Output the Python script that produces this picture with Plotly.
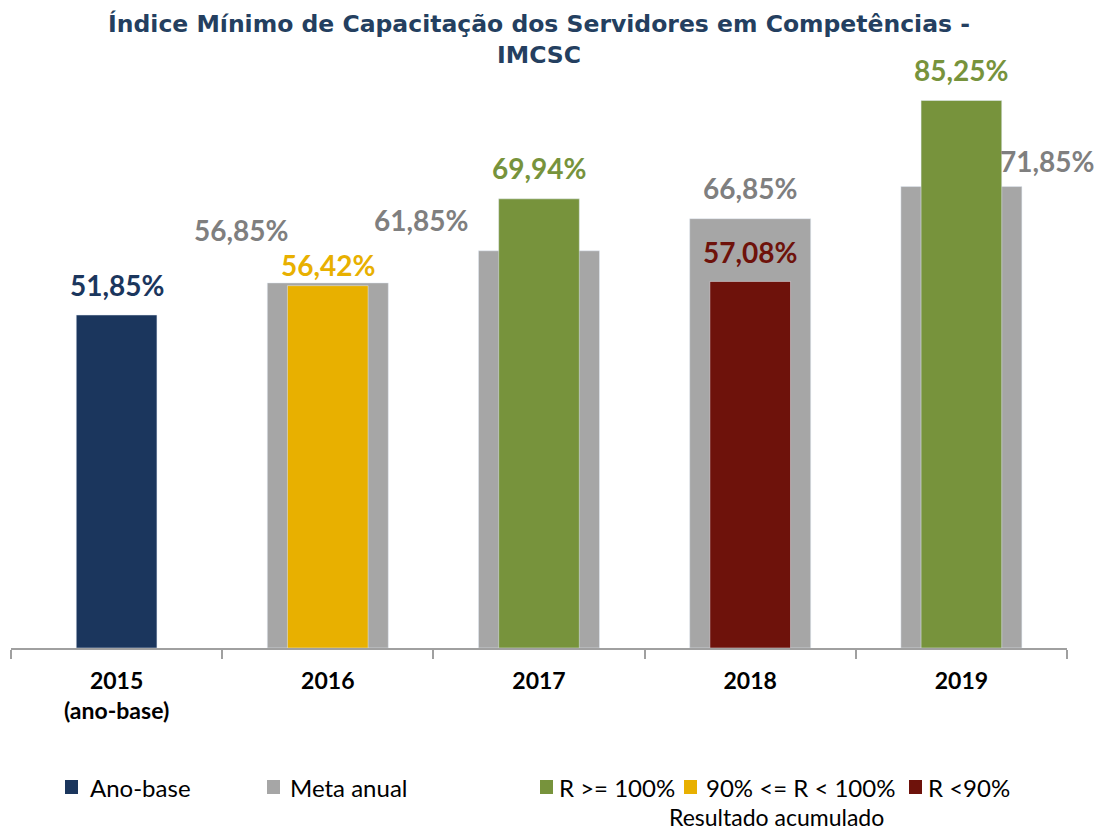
import plotly.graph_objects as go

# ---------------- data ----------------
categories = ["2015<br>(ano-base)", "2016", "2017", "2018", "2019"]
base_year = ["2015<br>(ano-base)"]
base_value = [51.85]
meta_years = ["2016", "2017", "2018", "2019"]
meta_values = [56.85, 61.85, 66.85, 71.85]
res_ge100_years = ["2017", "2019"]
res_ge100_values = [69.94, 85.25]
res_90_100_years = ["2016"]
res_90_100_values = [56.42]
res_lt90_years = ["2018"]
res_lt90_values = [57.08]

legend_labels = ["Ano-base", "Meta anual", "R >= 100%", "90% <= R < 100%", "R <90%"]
legend_subtitle = "Resultado acumulado"
title_text = "Índice Mínimo de Capacitação dos Servidores em Competências -<br>IMCSC"

# ---------------- style ----------------
C_BASE = "#1B365D"
C_META = "#A6A6A6"
C_GE100 = "#77933C"
C_90 = "#E8B000"
C_LT90 = "#6E120B"
C_META_TXT = "#7F7F7F"
LBL_FONT = "Lato, Carlito, Calibri, sans-serif"

W, H = 1102, 832
ML, MR, MT, MB = 11, 35, 70, 184
PW = W - ML - MR
PH = H - MT - MB

def px_x(px):
    return (px - ML) / PW

def px_y(py):
    return (H - MB - py) / PH

def cat_idx(c):
    return categories.index(c)

fig = go.Figure()
fig.add_trace(go.Bar(x=meta_years, y=meta_values, width=0.573, marker_color=C_META,
                     name="Meta anual", showlegend=False))
fig.add_trace(go.Bar(x=base_year, y=base_value, width=0.382, marker_color=C_BASE,
                     name="Ano-base", showlegend=False))
fig.add_trace(go.Bar(x=res_ge100_years, y=res_ge100_values, width=0.382, marker_color=C_GE100,
                     name="R >= 100%", showlegend=False))
fig.add_trace(go.Bar(x=res_90_100_years, y=res_90_100_values, width=0.382, marker_color=C_90,
                     name="90% <= R < 100%", showlegend=False))
fig.add_trace(go.Bar(x=res_lt90_years, y=res_lt90_values, width=0.382, marker_color=C_LT90,
                     name="R <90%", showlegend=False))

def fmt(v):
    return f"{v:.2f}%".replace(".", ",")

annotations = []

def lbl(xc, v, color, xshift=0, yshift=30):
    annotations.append(dict(x=cat_idx(xc), y=v, xref="x", yref="y", text="<b>" + fmt(v) + "</b>",
                            showarrow=False, xshift=xshift, yshift=yshift, yanchor="middle",
                            font=dict(family=LBL_FONT, size=28, color=color)))

# result labels
for xc, v in zip(base_year, base_value):
    lbl(xc, v, C_BASE, 0, 30)
for xc, v in zip(res_90_100_years, res_90_100_values):
    lbl(xc, v, C_90, 0, 21)
for xc, v in zip(res_ge100_years, res_ge100_values):
    lbl(xc, v, C_GE100, 0, 31)
for xc, v in zip(res_lt90_years, res_lt90_values):
    lbl(xc, v, C_LT90, 0, 29)

# meta labels (placed as in the original chart)
meta_offsets = [(-87, 53), (-118, 31), (0, 31), (86, 26)]
for (xc, v), (dx, dy) in zip(zip(meta_years, meta_values), meta_offsets):
    lbl(xc, v, C_META_TXT, dx, dy)

# legend (swatches + text)
shapes = []
legend_items = [
    (legend_labels[0], C_BASE, 65, 88),
    (legend_labels[1], C_META, 267, 288),
    (legend_labels[2], C_GE100, 540, 557),
    (legend_labels[3], C_90, 684, 704),
    (legend_labels[4], C_LT90, 909, 926),
]
ly = 787
for text, color, sx, tx in legend_items:
    shapes.append(dict(type="rect", xref="paper", yref="paper",
                       x0=px_x(sx), x1=px_x(sx + 13), y0=px_y(ly + 7), y1=px_y(ly - 7),
                       fillcolor=color, line=dict(width=0)))
    annotations.append(dict(x=px_x(tx), y=px_y(ly), xref="paper", yref="paper", text=text,
                            showarrow=False, xanchor="left", yanchor="middle",
                            font=dict(family=LBL_FONT, size=24, color="#000000")))
annotations.append(dict(x=px_x(776), y=px_y(817), xref="paper", yref="paper", text=legend_subtitle,
                        showarrow=False, xanchor="center", yanchor="middle",
                        font=dict(family=LBL_FONT, size=23, color="#000000")))

fig.update_layout(
    width=W, height=H,
    margin=dict(l=ML, r=MR, t=MT, b=MB),
    plot_bgcolor="white", paper_bgcolor="white",
    barmode="overlay",
    showlegend=False,
    title=dict(text=title_text, xref="paper", x=px_x(539), xanchor="center",
               y=1 - 32 / H, yanchor="middle",
               font=dict(family="Verdana, DejaVu Sans, sans-serif", size=23.5, color="#243F60",
                         weight="bold")),
    xaxis=dict(type="category", categoryorder="array", categoryarray=categories, range=[-0.5, 4.5],
               showline=True, linecolor="#A0A0A0", linewidth=1.5,
               ticks="outside", tickson="boundaries", ticklen=9, tickcolor="#A0A0A0", tickwidth=1.5,
               ticklabelstandoff=12,
               tickfont=dict(family=LBL_FONT, size=23, color="#000000", weight="bold"),
               showgrid=False, fixedrange=True),
    yaxis=dict(range=[0, 90], visible=False, showgrid=False, zeroline=False, fixedrange=True),
    annotations=annotations,
    shapes=shapes,
)

fig.write_html("out.html", config={"displayModeBar": False},
               post_script="document.body.style.margin='0';")
